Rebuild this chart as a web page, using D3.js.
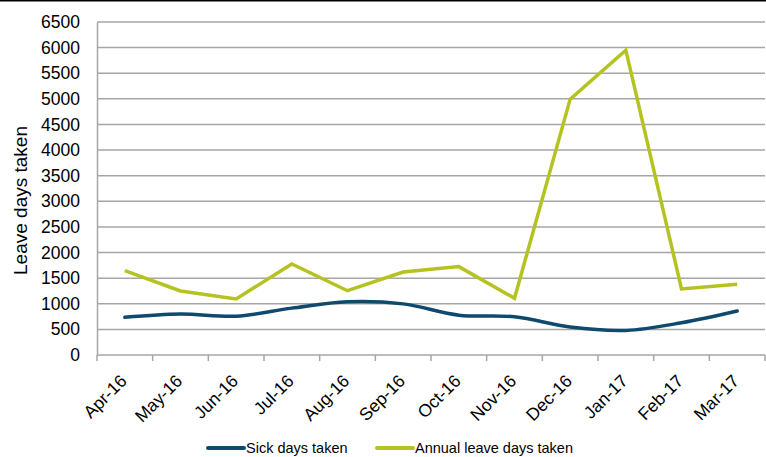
<!DOCTYPE html>
<html>
<head>
<meta charset="utf-8">
<script src="https://cdn.jsdelivr.net/npm/d3@7"></script>
<style>
  html, body { margin: 0; padding: 0; background: #fff; }
  svg { display: block; font-family: "Liberation Sans", Arial, sans-serif; }
</style>
</head>
<body>
<svg id="chart" width="766" height="457"></svg>
<script>
// Monthly leave figures, April 2016 to March 2017
const months = ["Apr-16", "May-16", "Jun-16", "Jul-16", "Aug-16", "Sep-16",
                "Oct-16", "Nov-16", "Dec-16", "Jan-17", "Feb-17", "Mar-17"];
const sickDays = [735, 800, 758, 915, 1040, 998, 778, 745, 545, 480, 630, 860];
const annualLeaveDays = [1648, 1250, 1095, 1778, 1255, 1620, 1725, 1107, 4995, 5950, 1290, 1380];
const yTicks = [0, 500, 1000, 1500, 2000, 2500, 3000, 3500, 4000, 4500, 5000, 5500, 6000, 6500];

const svg = d3.select("#chart");
const W = 766, H = 457;
const margin = { left: 97, right: 1, top: 22, bottom: 102 };

const x = d3.scaleBand().domain(months).range([margin.left, W - margin.right]);
const y = d3.scaleLinear().domain([0, 6500]).range([H - margin.bottom, margin.top]);
const cx = d => x(d) + x.bandwidth() / 2;

// top border
svg.append("line").attr("x1", 0).attr("x2", W).attr("y1", 0.5).attr("y2", 0.5)
  .attr("stroke", "#000").attr("stroke-width", 2);

// horizontal gridlines
svg.append("g").selectAll("line").data(yTicks.filter(t => t > 0)).join("line")
  .attr("x1", margin.left).attr("x2", W - margin.right)
  .attr("y1", d => y(d)).attr("y2", d => y(d))
  .attr("stroke", "#a6a6a6").attr("stroke-width", 1.5);

// y axis
const yAxis = svg.append("g").attr("transform", `translate(${margin.left},0)`)
  .call(d3.axisLeft(y).tickValues(yTicks).tickFormat(d3.format("d")).tickSize(0).tickPadding(17));
yAxis.select(".domain").attr("stroke", "#a6a6a6").attr("stroke-width", 1.5);
yAxis.selectAll(".tick text").attr("font-size", 17.5).attr("fill", "#000")
  .attr("font-family", "Liberation Sans, Arial, sans-serif");

// x axis with ticks on category boundaries
const xAxisG = svg.append("g").attr("transform", `translate(0,${y(0)})`);
xAxisG.append("line").attr("x1", margin.left).attr("x2", W - margin.right)
  .attr("stroke", "#a6a6a6").attr("stroke-width", 1.5);
const bounds = months.map(m => x(m)).concat([x(months[months.length - 1]) + x.bandwidth()]);
xAxisG.selectAll("line.tk").data(bounds).join("line").attr("class", "tk")
  .attr("x1", d => d).attr("x2", d => d).attr("y1", 0).attr("y2", 6)
  .attr("stroke", "#a6a6a6").attr("stroke-width", 1.5);
xAxisG.selectAll("text").data(months).join("text")
  .attr("transform", d => `translate(${cx(d) + 3},${27}) rotate(-45)`)
  .attr("text-anchor", "end")
  .attr("font-size", 17.5).attr("fill", "#000")
  .text(d => d);

// y axis title
svg.append("text")
  .attr("transform", `translate(27,${(y(0) + y(6500)) / 2 + 12}) rotate(-90)`)
  .attr("text-anchor", "middle").attr("font-size", 19).attr("fill", "#000")
  .text("Leave days taken");

// series
const lineSmooth = d3.line().x((d, i) => cx(months[i])).y(d => y(d)).curve(d3.curveCatmullRom.alpha(0.5));
const lineStraight = d3.line().x((d, i) => cx(months[i])).y(d => y(d));

svg.append("path").datum(sickDays).attr("d", lineSmooth)
  .attr("fill", "none").attr("stroke", "#0f4a6e").attr("stroke-width", 3.5)
  .attr("stroke-linejoin", "round").attr("stroke-linecap", "round");
svg.append("path").datum(annualLeaveDays).attr("d", lineStraight)
  .attr("fill", "none").attr("stroke", "#b4c321").attr("stroke-width", 3.5)
  .attr("stroke-linejoin", "miter").attr("stroke-linecap", "butt");

// legend
const legend = [
  { label: "Sick days taken", color: "#0f4a6e", x: 208 },
  { label: "Annual leave days taken", color: "#b4c321", x: 377 }
];
const lg = svg.append("g").selectAll("g").data(legend).join("g")
  .attr("transform", d => `translate(${d.x},448)`);
lg.append("line").attr("x1", 0).attr("x2", 36).attr("y1", 0).attr("y2", 0)
  .attr("stroke", d => d.color).attr("stroke-width", 4).attr("stroke-linecap", "round");
lg.append("text").attr("x", 38).attr("dy", "0.35em").attr("font-size", 14.5).attr("fill", "#000")
  .text(d => d.label);
</script>
</body>
</html>
